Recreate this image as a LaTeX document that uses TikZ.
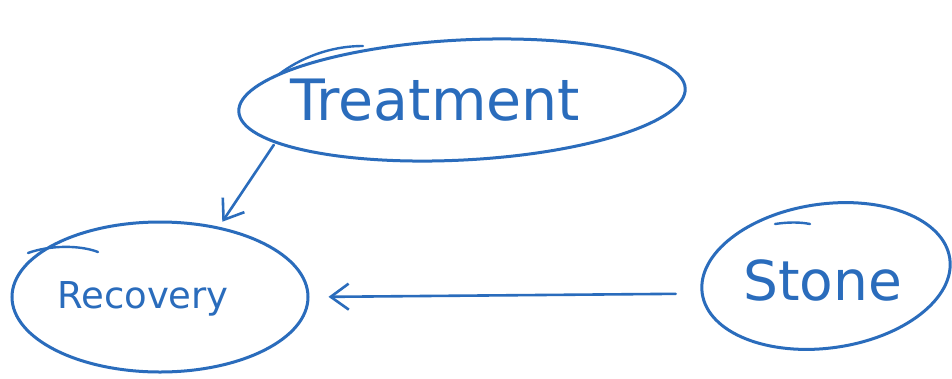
\documentclass[tikz,border=0pt]{standalone}
\usepackage{fontspec}
\setmainfont{DejaVu Sans}
\usetikzlibrary{arrows.meta,shapes.geometric}
\definecolor{ink}{RGB}{42,108,188}
\tikzset{
  bubble/.style={draw=ink, line width=3pt, ellipse, inner sep=0pt},
  stroke/.style={draw=ink, line width=2.4pt, line cap=round},
  word/.style={text=ink, anchor=base west, inner sep=0pt},
  arr/.style={draw=ink, line width=2.6pt, line cap=round, line join=round,
    -{Straight Barb[length=18pt,width=26pt,line width=2.6pt]}}
}
\begin{document}
\begin{tikzpicture}[x=1pt,y=-1pt]
\useasboundingbox (0,0) rectangle (952,378);
\fill[white] (0,0) rectangle (952,378);
\node[bubble, minimum width=447pt, minimum height=120pt, rotate=3] (treat) at (462,100) {};
\node[bubble, minimum width=296pt, minimum height=150pt] (rec) at (160,297) {};
\node[bubble, minimum width=250pt, minimum height=144pt, rotate=8] (stone) at (826,276) {};
\node[word, font=\fontsize{57}{62}\selectfont] (treattext) at (290,120) {Treatment};
\node[word, font=\fontsize{37}{44}\selectfont] (rectext) at (57,308) {Recovery};
\node[word, font=\fontsize{55}{60}\selectfont] (stonetext) at (743,300) {Stone};
% pen overshoots of the hand-drawn ellipses
\draw[stroke] (278,75) .. controls (300,58) and (330,46) .. (363,46);
\draw[stroke] (28,253) .. controls (50,245) and (80,245) .. (98,252);
\draw[stroke] (775,224) .. controls (788,222) and (800,222) .. (810,224);
\draw[arr, shorten <=2pt, shorten >=6pt] (treat.190) -- (rec.50);
\draw[arr, shorten <=25pt, shorten >=19pt] (stone.west) -- (rec.east);
\end{tikzpicture}
\end{document}
